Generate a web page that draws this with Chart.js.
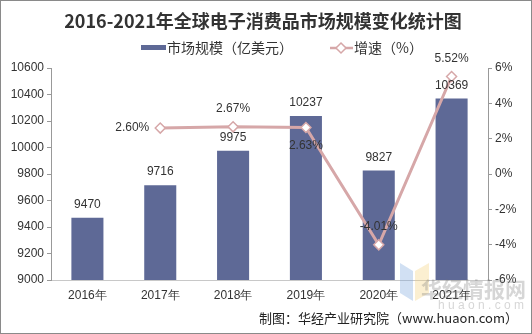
<!DOCTYPE html>
<html>
<head>
<meta charset="utf-8">
<script src="https://cdn.jsdelivr.net/npm/chart.js@4/dist/chart.umd.min.js"></script>
<style>
  html, body { margin: 0; padding: 0; background: #fff; }
  #wrap { width: 532px; height: 334px; position: relative; box-sizing: border-box; border: 1px solid #8a8a8a; }
  canvas { display: block; }
</style>
</head>
<body>
<div id="wrap"><canvas id="c" width="530" height="332"></canvas></div>
<script>
// 数据
const years = ['2016年', '2017年', '2018年', '2019年', '2020年', '2021年'];
const marketSize = [9470, 9716, 9975, 10237, 9827, 10369];
const growthRate = [null, 2.60, 2.67, 2.63, -4.01, 5.52];
// 增速标签位置: l = 左, t = 上, b = 下
const growthLabelPos = [null, 'l', 't', 'b', 't', 't'];

const barColor = '#5e6996';
const lineColor = '#d6a7a8';
const font = '"Liberation Sans", Arial, sans-serif';
const cjk = '"Noto Sans CJK SC", sans-serif';

const decorPlugin = {
    id: 'decor',
    afterDatasetsDraw(chart) {
        const ctx = chart.ctx;
        ctx.save();
        ctx.font = '12px ' + font;
        ctx.fillStyle = '#333';
        ctx.textAlign = 'center';
        ctx.textBaseline = 'middle';
        // 柱子数值 (dataset 1 = bar)
        chart.getDatasetMeta(1).data.forEach((bar, i) => {
            ctx.fillText(marketSize[i], bar.x, bar.y - 13);
        });
        // 增速标签 (dataset 0 = line)
        chart.getDatasetMeta(0).data.forEach((pt, i) => {
            if (growthRate[i] === null) return;
            const txt = growthRate[i].toFixed(2) + '%';
            const pos = growthLabelPos[i];
            if (pos === 'l') { ctx.textAlign = 'right'; ctx.fillText(txt, pt.x - 11, pt.y); }
            else if (pos === 'b') { ctx.textAlign = 'center'; ctx.fillText(txt, pt.x, pt.y + 18); }
            else { ctx.textAlign = 'center'; ctx.fillText(txt, pt.x, pt.y - 18); }
        });
        ctx.restore();
    },
    afterDraw(chart) {
        const ctx = chart.ctx;
        ctx.save();
        // 标题
        ctx.fillStyle = '#333';
        ctx.textAlign = 'center';
        ctx.textBaseline = 'middle';
        ctx.font = 'bold 18px ' + cjk;
        ctx.fillText('2016-2021年全球电子消费品市场规模变化统计图', 262, 20);
        // 图例
        ctx.font = '14px ' + cjk;
        ctx.textAlign = 'left';
        ctx.fillStyle = barColor;
        ctx.fillRect(140, 44, 25, 5);
        ctx.fillStyle = '#333';
        ctx.fillText('市场规模（亿美元）', 166, 47);
        ctx.strokeStyle = lineColor;
        ctx.lineWidth = 2.5;
        ctx.beginPath(); ctx.moveTo(329, 47); ctx.lineTo(352, 47); ctx.stroke();
        ctx.fillStyle = '#fff';
        ctx.lineWidth = 1.5;
        ctx.beginPath();
        ctx.moveTo(340, 42); ctx.lineTo(345, 47); ctx.lineTo(340, 52); ctx.lineTo(335, 47); ctx.closePath();
        ctx.fill(); ctx.stroke();
        ctx.fillStyle = '#333';
        ctx.fillText('增速（%）', 353, 47);
        // 水印
        ctx.globalAlpha = 0.35;
        ctx.fillStyle = '#7aa6dc';
        ctx.beginPath();
        ctx.moveTo(399, 262); ctx.lineTo(412, 270); ctx.lineTo(412, 300); ctx.lineTo(399, 292); ctx.closePath(); ctx.fill();
        ctx.fillStyle = '#f4d27a';
        ctx.beginPath();
        ctx.moveTo(414, 270); ctx.lineTo(428, 262); ctx.lineTo(428, 292); ctx.lineTo(414, 300); ctx.closePath(); ctx.fill();
        ctx.globalAlpha = 0.3;
        ctx.fillStyle = '#777';
        ctx.font = 'bold 21px ' + cjk;
        ctx.fillText('华经情报网', 420, 288);
        ctx.font = '12px ' + font;
        ctx.fillText('h u a o n . c o m', 437, 305);
        ctx.globalAlpha = 1;
        // 来源
        ctx.fillStyle = '#222';
        ctx.font = '13px ' + cjk;
        ctx.textAlign = 'right';
        ctx.fillText('制图：华经产业研究院（www.huaon.com）', 517, 317);
        ctx.restore();
    }
};

new Chart(document.getElementById('c'), {
    data: {
        labels: years,
        datasets: [
            {
                type: 'line',
                label: '增速（%）',
                data: growthRate,
                yAxisID: 'y1',
                borderColor: lineColor,
                borderWidth: 3,
                pointStyle: 'rectRot',
                pointRadius: 5,
                pointBackgroundColor: '#fff',
                pointBorderColor: lineColor,
                pointBorderWidth: 1.5,
                tension: 0,
                order: 0
            },
            {
                type: 'bar',
                label: '市场规模（亿美元）',
                data: marketSize,
                yAxisID: 'y',
                backgroundColor: barColor,
                barPercentage: 0.44,
                categoryPercentage: 1,
                order: 1
            }
        ]
    },
    options: {
        responsive: false,
        animation: false,
        devicePixelRatio: 1,
        layout: { padding: { top: 67, left: 0, right: 0, bottom: 0 } },
        plugins: { legend: { display: false }, title: { display: false }, tooltip: { enabled: false } },
        scales: {
            x: {
                offset: true,
                grid: { drawOnChartArea: false, drawTicks: false },
                border: { color: '#c8c8c8' },
                ticks: { color: '#333', font: { size: 12, family: font }, padding: 8 },
                afterFit: (s) => { s.height = 53; }
            },
            y: {
                position: 'left',
                min: 9000, max: 10600,
                ticks: { stepSize: 200, color: '#333', font: { size: 12, family: font }, padding: 3,
                    callback: (v) => String(v) },
                grid: { drawOnChartArea: false, tickLength: 4, color: '#999' },
                border: { color: '#999' },
                afterFit: (s) => { s.width = 50; }
            },
            y1: {
                position: 'right',
                min: -6, max: 6,
                ticks: { stepSize: 2, color: '#333', font: { size: 12, family: font }, padding: 3,
                    callback: (v) => v + '%' },
                grid: { drawOnChartArea: false, tickLength: 4, color: '#999' },
                border: { color: '#999' },
                afterFit: (s) => { s.width = 43; }
            }
        }
    },
    plugins: [decorPlugin]
});
</script>
</body>
</html>
